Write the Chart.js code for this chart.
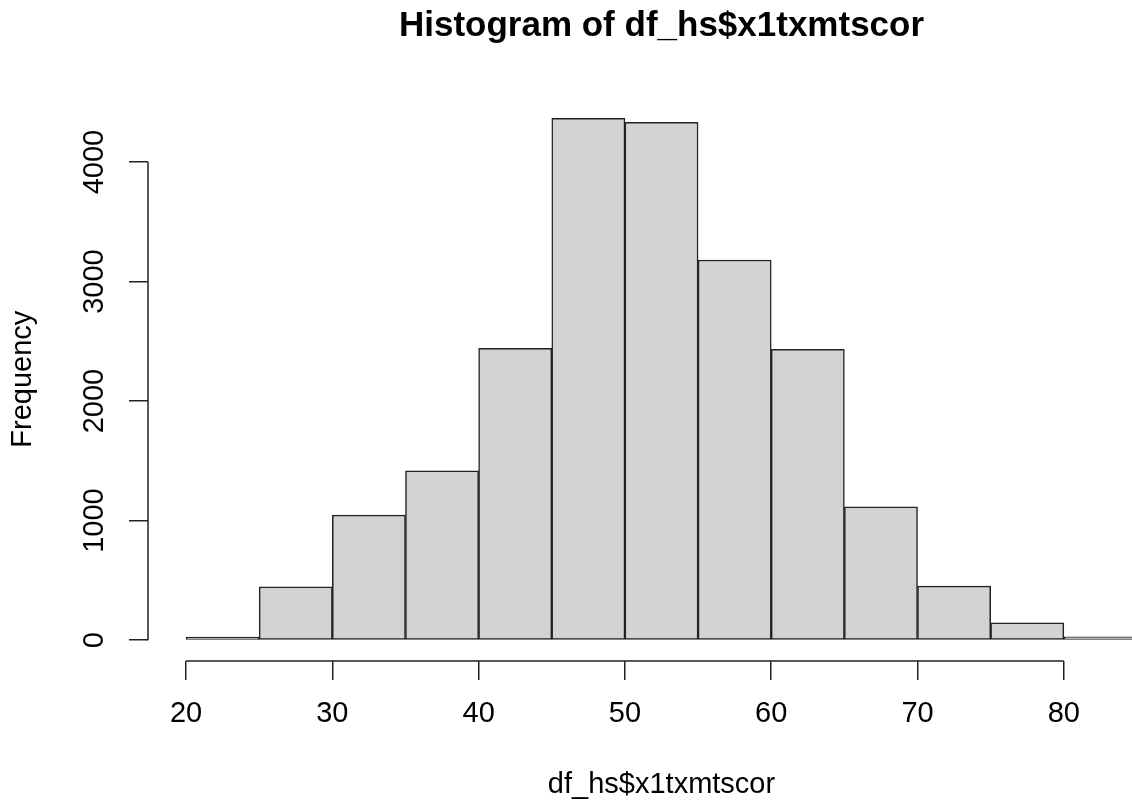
<!DOCTYPE html>
<html><head><meta charset="utf-8">
<style>
html,body{margin:0;padding:0;overflow:hidden;background:#fff;width:1132px;height:804px}
canvas{display:block}
</style>
<script src="https://cdn.jsdelivr.net/npm/chart.js@4.4.1/dist/chart.umd.min.js"></script>
</head><body>
<canvas id="c" width="1200" height="804" style="width:1200px;height:804px"></canvas>
<script>
// Histogram data (bin starts, bin width, counts)
const binStarts = [20, 25, 30, 35, 40, 45, 50, 55, 60, 65, 70, 75, 80];
const binWidth = 5;
const counts = [15, 446, 1046, 1417, 2441, 4366, 4332, 3180, 2433, 1116, 452, 145, 28];
const xTicks = [20, 30, 40, 50, 60, 70, 80];
const yTicks = [0, 1000, 2000, 3000, 4000];

const FONT = "'Liberation Sans', Arial, Helvetica, sans-serif";
const LINE = '#222';

const xLo = binStarts[0], xHi = binStarts[binStarts.length - 1] + binWidth;
const yHi = Math.max(0, ...counts);
const xPad = 0.04 * (xHi - xLo), yPad = 0.04 * yHi;

const rAxes = {
  id: 'rAxes',
  afterDraw(chart) {
    const ctx = chart.ctx, xs = chart.scales.x, ys = chart.scales.y, a = chart.chartArea;
    ctx.save();
    ctx.strokeStyle = LINE;
    ctx.lineWidth = 1.5;
    ctx.beginPath();
    ctx.moveTo(xs.getPixelForValue(xTicks[0]), a.bottom);
    ctx.lineTo(xs.getPixelForValue(xTicks[xTicks.length - 1]), a.bottom);
    ctx.moveTo(a.left, ys.getPixelForValue(yTicks[0]));
    ctx.lineTo(a.left, ys.getPixelForValue(yTicks[yTicks.length - 1]));
    ctx.stroke();
    ctx.restore();
  }
};

new Chart(document.getElementById('c'), {
  type: 'bar',
  data: {
    datasets: [{
      data: binStarts.map((s, i) => ({ x: s + binWidth / 2, y: counts[i] })),
      backgroundColor: '#D3D3D3',
      borderColor: LINE,
      borderWidth: 1.5,
      borderSkipped: false,
      minBarLength: 3,
      categoryPercentage: 1,
      barPercentage: 1
    }]
  },
  options: {
    responsive: false,
    animation: false,
    devicePixelRatio: 1,
    layout: { padding: { left: 0, right: 25, top: 0, bottom: 0 } },
    plugins: {
      legend: { display: false },
      tooltip: { enabled: false },
      title: {
        display: true,
        fullSize: false,
        text: 'Histogram of df_hs$x1txmtscor',
        color: '#000',
        font: { family: FONT, size: 35, weight: 'bold', lineHeight: 1.2 },
        padding: { top: 5, bottom: 50.4 }
      }
    },
    scales: {
      x: {
        type: 'linear',
        offset: false,
        min: xLo - xPad,
        max: xHi + xPad,
        afterBuildTicks: s => { s.ticks = xTicks.map(v => ({ value: v })); },
        afterFit: s => { s.height = 143; },
        border: { display: false },
        grid: { display: true, offset: false, drawOnChartArea: false, drawTicks: true, tickLength: 19, color: LINE, lineWidth: 1.5 },
        ticks: { color: '#000', font: { family: FONT, size: 29, lineHeight: 1.2 }, padding: 17, autoSkip: false, maxRotation: 0, minRotation: 0, callback: v => String(v) },
        title: { display: true, text: 'df_hs$x1txmtscor', color: '#000', font: { family: FONT, size: 29, lineHeight: 1.2 }, padding: { top: 0, bottom: 2 } }
      },
      y: {
        type: 'linear',
        min: -yPad,
        max: yHi + yPad,
        afterBuildTicks: s => { s.ticks = yTicks.map(v => ({ value: v })); },
        afterFit: s => { s.width = 148; },
        border: { display: false },
        grid: { display: true, drawOnChartArea: false, drawTicks: true, tickLength: 19, color: LINE, lineWidth: 1.5 },
        ticks: { color: '#000', font: { family: FONT, size: 29, lineHeight: 1.2 }, padding: 1.75, autoSkip: false, minRotation: 90, maxRotation: 90, crossAlign: 'center', callback: v => String(v) },
        title: { display: true, text: 'Frequency', color: '#000', font: { family: FONT, size: 29, lineHeight: 1.2 }, padding: { top: 5.6, bottom: 0 } }
      }
    }
  },
  plugins: [rAxes]
});
</script>
</body></html>
